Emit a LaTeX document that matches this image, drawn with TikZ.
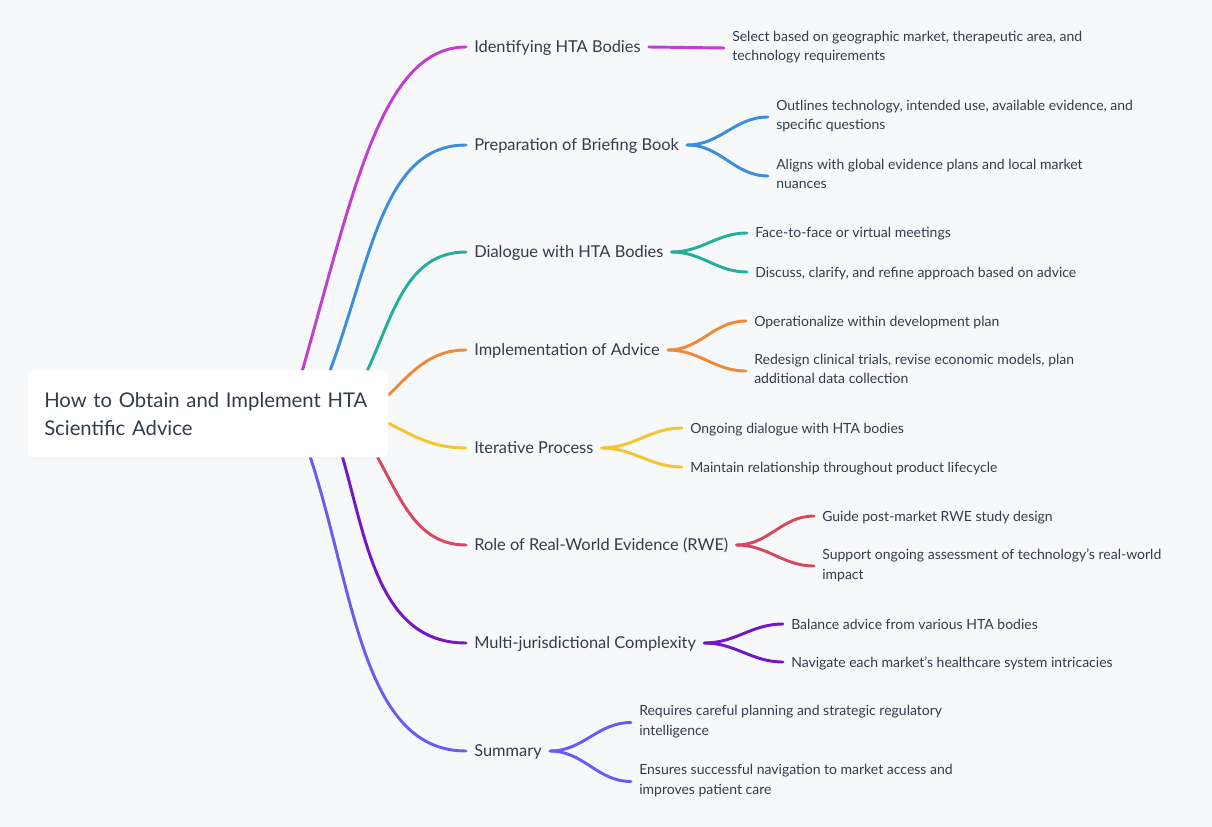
\documentclass[tikz,border=0pt]{standalone}
\usepackage{fontspec}
\setmainfont{Lato}
\usepackage{tikz}
\usepackage{xcolor}
\usetikzlibrary{calc,backgrounds,shadows}
\definecolor{bgcol}{HTML}{F7F8FA}
\definecolor{txtcol}{HTML}{323C4A}
\definecolor{cIdent}{HTML}{C03FD2}
\definecolor{cBrief}{HTML}{3B8EDE}
\definecolor{cDialog}{HTML}{22B09C}
\definecolor{cImplem}{HTML}{EC8A3B}
\definecolor{cIter}{HTML}{F6C42C}
\definecolor{cRwe}{HTML}{D6485F}
\definecolor{cMulti}{HTML}{7416C6}
\definecolor{cSumm}{HTML}{6A5CF2}

\begin{document}
\begin{tikzpicture}[x=0.75pt,y=0.75pt,
  rootbox/.style={anchor=north west,fill=white,rounded corners=4pt,minimum width=270.75pt,minimum height=65.25pt,text width=245.25pt,inner xsep=12.75pt,align=left,text=txtcol,font=\fontsize{15.2}{21}\selectfont,drop shadow={opacity=0.06,shadow xshift=0pt,shadow yshift=-1pt}},
  branch/.style={anchor=west,inner xsep=6pt,inner ysep=0pt,text=txtcol,font=\fontsize{12.3}{14}\selectfont,execute at begin node={\rule{0pt}{11.5pt}},execute at end node={\rule[-2.7pt]{0pt}{2.7pt}}},
  leaf/.style={anchor=west,align=left,inner xsep=6pt,inner ysep=0pt,text=txtcol,font=\fontsize{10.5}{14.6}\selectfont,execute at begin node={\rule{0pt}{10.5pt}},execute at end node={\rule[-3pt]{0pt}{3pt}}},
  link/.style={line width=2.2pt,line cap=round}]
\begin{pgfonlayer}{background}
\fill[bgcol] (0,0) rectangle (1212,-827);
\end{pgfonlayer}
\useasboundingbox (0,0) rectangle (1212,-827);

\node[rootbox] (root) at (27,-370) {How to Obtain and Implement HTA\\Scientific Advice};

\node[branch] (ident) at (466,-47) {Identifying HTA Bodies};
\node[branch] (brief) at (466,-145) {Preparation of Briefing Book};
\node[branch] (dialog) at (466,-252) {Dialogue with HTA Bodies};
\node[branch] (implem) at (466,-350) {Implementation of Advice};
\node[branch] (iter) at (466,-448) {Iterative Process};
\node[branch] (rwe) at (466,-545) {Role of Real-World Evidence (RWE)};
\node[branch] (multi) at (466,-643) {Multi-jurisdictional Complexity};
\node[branch] (summ) at (466,-751) {Summary};

\node[leaf] (identA) at (724,-48) {Select based on geographic market, therapeutic area, and\\technology requirements};
\node[leaf] (briefA) at (768,-117) {Outlines technology, intended use, available evidence, and\\specific questions};
\node[leaf] (briefB) at (768,-176) {Aligns with global evidence plans and local market\\nuances};
\node[leaf] (dialogA) at (747,-233) {Face-to-face or virtual meetings};
\node[leaf] (dialogB) at (747,-272) {Discuss, clarify, and refine approach based on advice};
\node[leaf] (implemA) at (746,-321) {Operationalize within development plan};
\node[leaf] (implemB) at (746,-371) {Redesign clinical trials, revise economic models, plan\\additional data collection};
\node[leaf] (iterA) at (682,-428) {Ongoing dialogue with HTA bodies};
\node[leaf] (iterB) at (682,-467) {Maintain relationship throughout product lifecycle};
\node[leaf] (rweA) at (814,-516) {Guide post-market RWE study design};
\node[leaf] (rweB) at (814,-566) {Support ongoing assessment of technology's real-world\\impact};
\node[leaf] (multiA) at (783,-624) {Balance advice from various HTA bodies};
\node[leaf] (multiB) at (783,-662) {Navigate each market's healthcare system intricacies};
\node[leaf] (summA) at (631,-722.5) {Requires careful planning and strategic regulatory\\intelligence};
\node[leaf] (summB) at (631,-781.5) {Ensures successful navigation to market access and\\improves patient care};

\begin{pgfonlayer}{background}
\draw[link,cIdent] ($(root.north west)!0.762!(root.north east)$) to[out=74,in=180,out looseness=1.3,in looseness=0.6] (ident.west);
\draw[link,cBrief] ($(root.north west)!0.839!(root.north east)$) to[out=70,in=180,out looseness=1.2,in looseness=0.8] (brief.west);
\draw[link,cDialog] ($(root.north west)!0.942!(root.north east)$) to[out=65,in=180] (dialog.west);
\draw[link,cImplem] ($(root.north east)!0.287!(root.south east)$) to[out=45,in=180] (implem.west);
\draw[link,cIter] ($(root.north east)!0.609!(root.south east)$) to[out=-27,in=180] (iter.west);
\draw[link,cRwe] ($(root.south west)!0.970!(root.south east)$) to[out=-61,in=180] (rwe.west);
\draw[link,cMulti] ($(root.south west)!0.873!(root.south east)$) to[out=-74,in=180] (multi.west);
\draw[link,cSumm] ($(root.south west)!0.784!(root.south east)$) to[out=-72,in=180,out looseness=1.1,in looseness=0.8] (summ.west);
\end{pgfonlayer}

\draw[link,cIdent] (ident.east) -- (identA.west);
\draw[link,cBrief] (brief.east) to[out=0,in=180] (briefA.west);
\draw[link,cBrief] (brief.east) to[out=0,in=180] (briefB.west);
\draw[link,cDialog] (dialog.east) to[out=0,in=180] (dialogA.west);
\draw[link,cDialog] (dialog.east) to[out=0,in=180] (dialogB.west);
\draw[link,cImplem] (implem.east) to[out=0,in=180] (implemA.west);
\draw[link,cImplem] (implem.east) to[out=0,in=180] (implemB.west);
\draw[link,cIter] (iter.east) to[out=0,in=180] (iterA.west);
\draw[link,cIter] (iter.east) to[out=0,in=180] (iterB.west);
\draw[link,cRwe] (rwe.east) to[out=0,in=180] (rweA.west);
\draw[link,cRwe] (rwe.east) to[out=0,in=180] (rweB.west);
\draw[link,cMulti] (multi.east) to[out=0,in=180] (multiA.west);
\draw[link,cMulti] (multi.east) to[out=0,in=180] (multiB.west);
\draw[link,cSumm] (summ.east) to[out=0,in=180] (summA.west);
\draw[link,cSumm] (summ.east) to[out=0,in=180] (summB.west);
\end{tikzpicture}
\end{document}
